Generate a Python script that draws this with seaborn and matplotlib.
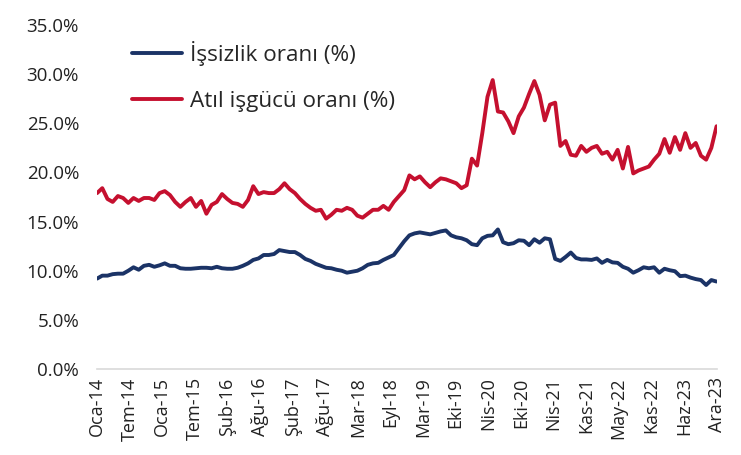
import numpy as np
import pandas as pd
import matplotlib
matplotlib.use("Agg")
import matplotlib.pyplot as plt
from matplotlib.ticker import FuncFormatter
import seaborn as sns

# monthly values, Oca-14 .. Ara-23 (120 months)
issizlik = [
    9.2, 9.5, 9.5, 9.65, 9.7, 9.7, 10.0, 10.35, 10.1, 10.5, 10.6, 10.4,
    10.55, 10.75, 10.5, 10.5, 10.25, 10.2, 10.2, 10.25, 10.3, 10.3, 10.25, 10.4,
    10.25, 10.2, 10.2, 10.3, 10.5, 10.75, 11.1, 11.25, 11.6, 11.6, 11.7, 12.1,
    12.0, 11.9, 11.9, 11.6, 11.2, 11.0, 10.7, 10.5, 10.3, 10.25, 10.1, 10.0,
    9.8, 9.9, 10.0, 10.25, 10.6, 10.75, 10.8, 11.1, 11.35, 11.6, 12.3, 13.0,
    13.6, 13.8, 13.9, 13.8, 13.7, 13.85, 14.0, 14.1, 13.6, 13.4, 13.3, 13.1,
    12.7, 12.6, 13.3, 13.55, 13.6, 14.2, 12.9, 12.7, 12.8, 13.1, 13.05, 12.6,
    13.2, 12.85, 13.3, 13.2, 11.2, 11.0, 11.4, 11.85, 11.3, 11.15, 11.15, 11.1,
    11.25, 10.8, 11.1, 10.85, 10.8, 10.4, 10.2, 9.8, 10.05, 10.35, 10.25, 10.35,
    9.8, 10.2, 10.05, 9.95, 9.45, 9.5, 9.3, 9.15, 9.05, 8.55, 9.05, 8.9,
]
atil = [
    17.9, 18.4, 17.3, 17.0, 17.6, 17.4, 16.9, 17.4, 17.1, 17.4, 17.4, 17.2,
    17.9, 18.1, 17.7, 17.0, 16.5, 17.0, 17.4, 16.5, 17.1, 15.8, 16.7, 17.0,
    17.8, 17.3, 16.9, 16.8, 16.5, 17.2, 18.6, 17.8, 18.0, 17.9, 17.9, 18.3,
    18.9, 18.3, 17.9, 17.3, 16.8, 16.4, 16.1, 16.2, 15.3, 15.7, 16.2, 16.1,
    16.4, 16.2, 15.6, 15.4, 15.8, 16.2, 16.2, 16.6, 16.2, 17.0, 17.6, 18.2,
    19.7, 19.3, 19.6, 19.0, 18.5, 19.0, 19.4, 19.3, 19.1, 18.9, 18.4, 18.7,
    21.4, 20.7, 24.0, 27.7, 29.4, 26.2, 26.1, 25.2, 24.0, 25.7, 26.6, 28.0,
    29.3, 27.9, 25.3, 26.9, 27.1, 22.7, 23.2, 21.8, 21.7, 22.7, 22.1, 22.5,
    22.7, 21.9, 22.1, 21.3, 22.3, 20.4, 22.6, 19.9, 20.2, 20.4, 20.6, 21.3,
    21.9, 23.4, 22.0, 23.6, 22.3, 24.0, 22.5, 23.0, 21.7, 21.3, 22.5, 24.7,
]
tick_labels = ["Oca-14", "Tem-14", "Oca-15", "Tem-15", "Şub-16", "Ağu-16",
               "Şub-17", "Ağu-17", "Mar-18", "Eyl-18", "Mar-19", "Eki-19",
               "Nis-20", "Eki-20", "Nis-21", "Kas-21", "May-22", "Kas-22",
               "Haz-23", "Ara-23"]
series_names = ["İşsizlik oranı (%)", "Atıl işgücü oranı (%)"]
colors = ["#1B3366", "#C5102F"]

sns.set_theme(style="white")
plt.rcParams["font.family"] = ["Open Sans", "DejaVu Sans"]

months = np.arange(len(issizlik))
df = pd.DataFrame({
    "ay": np.concatenate([months, months]),
    "oran": issizlik + atil,
    "seri": [series_names[0]] * len(issizlik) + [series_names[1]] * len(atil),
})

fig = plt.figure(figsize=(7.41, 4.55), dpi=100)
ax = fig.add_axes([0.131, 0.189, 0.836, 0.756])
sns.lineplot(data=df, x="ay", y="oran", hue="seri", palette=colors,
             linewidth=2.8, ax=ax)

ax.set_xlim(0, len(issizlik) - 1)
ax.set_ylim(0, 35)
ax.set_yticks(np.arange(0, 36, 5))
ax.yaxis.set_major_formatter(FuncFormatter(lambda v, p: f"{v:.1f}%"))
ax.set_xticks(np.linspace(0, len(issizlik) - 1, len(tick_labels)))
ax.set_xticklabels(tick_labels, rotation=90)
ax.tick_params(axis="both", length=0, colors="#222222")
ax.tick_params(axis="y", pad=13, labelsize=13.5)
ax.tick_params(axis="x", pad=6, labelsize=13)
ax.set_xlabel("")
ax.set_ylabel("")
for s in ["left", "right", "top"]:
    ax.spines[s].set_visible(False)
ax.spines["bottom"].set_color("#D9D9D9")
ax.spines["bottom"].set_linewidth(1.2)

ax.legend(loc="upper left", bbox_to_anchor=(0.024, 1.012), frameon=False,
          fontsize=16.2, handlelength=2.2, handletextpad=0.35, labelspacing=1.1)

fig.savefig("out.png", dpi=100)
